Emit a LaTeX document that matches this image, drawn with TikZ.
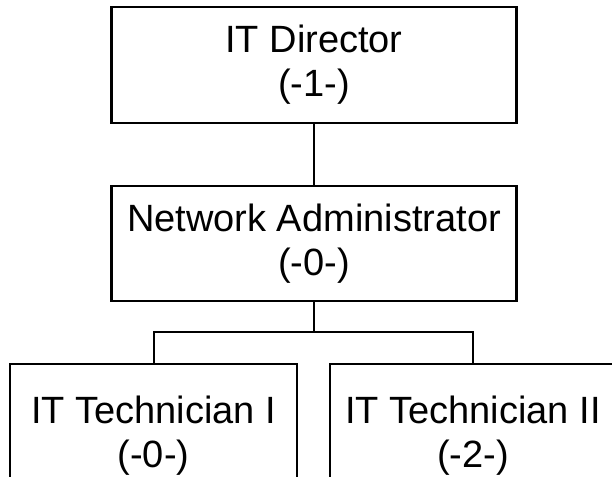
\documentclass[tikz,border=0pt]{standalone}
\usepackage{fontspec}
\setmainfont{Liberation Sans}
\begin{document}
\begin{tikzpicture}[x=1pt,y=1pt,
  orgbox/.style={draw=black, line width=2.4pt, fill=white, inner sep=0pt,
    align=center, font=\fontsize{38}{44}\selectfont},
  link/.style={draw=black, line width=2pt}]
\useasboundingbox (0,0) rectangle (612,476);
\fill[white] (0,0) rectangle (612,476);

% boxes of the chart
\node[orgbox, minimum width=405, minimum height=116] (dir) at (314,411) {IT Director\\(-1-)};
\node[orgbox, minimum width=405, minimum height=115] (net) at (314,232.5) {Network Administrator\\(-0-)};
\node[orgbox, minimum width=287, minimum height=144] (tech1) at (153.5,40) {IT Technician I\\(-0-)};
\node[orgbox, minimum width=286, minimum height=144] (tech2) at (473,40) {IT Technician II\\(-2-)};

% connectors
\coordinate (bus) at (314,144);
\draw[link] (dir.south) -- (net.north);
\draw[link] (net.south) -- (bus);
\draw[link] (tech1.north) |- (bus) -| (tech2.north);
\end{tikzpicture}
\end{document}
